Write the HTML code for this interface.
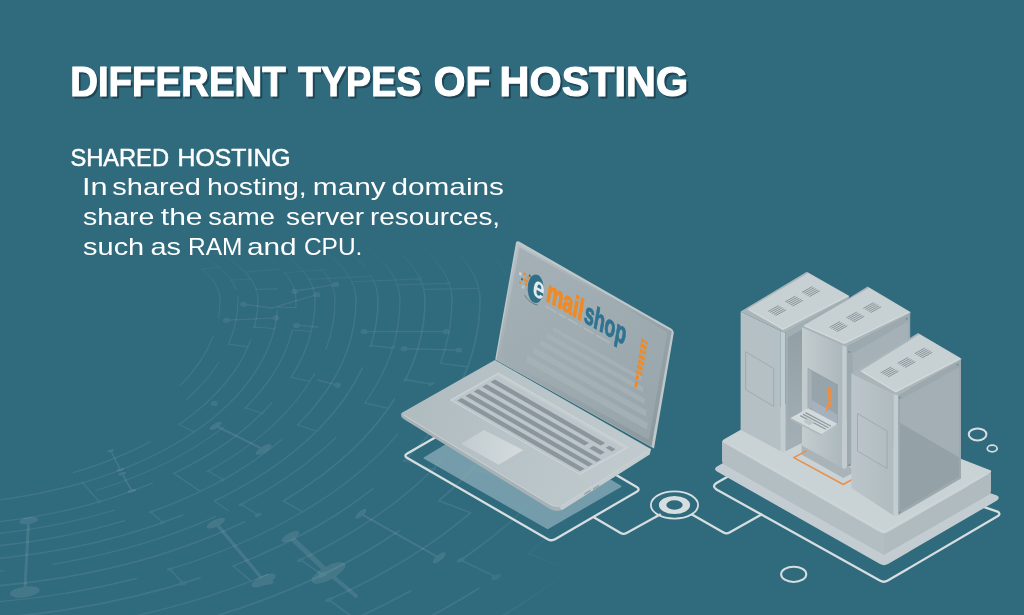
<!DOCTYPE html>
<html lang="en">
<head>
<meta charset="utf-8">
<title>Different Types of Hosting</title>
<style>
html,body{margin:0;padding:0;background:#306a7d;overflow:hidden}
body{width:1024px;height:615px;position:relative;font-family:"Liberation Sans",sans-serif}
svg{position:absolute;left:0;top:0;display:block}
text{font-family:"Liberation Sans",sans-serif}
</style>
</head>
<body>
<svg width="1024" height="615" viewBox="0 0 1024 615">
<rect width="1024" height="615" fill="#306a7d"/>
<!--BG-PATTERN-->
<defs><linearGradient id="fadeg" x1="0" y1="238" x2="0" y2="300" gradientUnits="userSpaceOnUse"><stop offset="0" stop-color="#000"/><stop offset="1" stop-color="#fff"/></linearGradient><mask id="fadem" maskUnits="userSpaceOnUse" x="0" y="0" width="1024" height="615"><rect x="0" y="0" width="1024" height="615" fill="url(#fadeg)"/></mask><linearGradient id="fadeh" x1="470" y1="0" x2="575" y2="0" gradientUnits="userSpaceOnUse"><stop offset="0" stop-color="#fff"/><stop offset="1" stop-color="#000"/></linearGradient><mask id="fademh" maskUnits="userSpaceOnUse" x="0" y="0" width="1024" height="615"><rect x="0" y="0" width="1024" height="615" fill="url(#fadeh)"/></mask></defs>
<g mask="url(#fademh)">
<g id="bgpat" fill="none" stroke="#ffffff" stroke-linecap="round" opacity="0.08" mask="url(#fadem)">
<path d="M201.9 269.2 A300.0 90.0 0 0 1 220.0 300.0" stroke-width="1.2"/><path d="M220.0 300.0 A300.0 171.9 0 0 1 218.4 318.0" stroke-width="1.2"/>
<path d="M213.4 335.7 A300.0 171.9 0 0 1 179.8 385.9" stroke-width="1.2"/>
<path d="M200.8 255.2 A318.0 95.4 0 0 1 236.3 290.0" stroke-width="1.2"/>
<path d="M237.8 296.7 A318.0 95.4 0 0 1 238.0 300.0" stroke-width="1.2"/><path d="M238.0 300.0 A318.0 182.2 0 0 1 228.6 344.1" stroke-width="1.2"/>
<path d="M218.8 362.3 A318.0 182.2 0 0 1 186.7 399.2" stroke-width="1.2"/>
<path d="M200.2 243.3 A338.0 101.4 0 0 1 258.0 300.0" stroke-width="1.2"/><path d="M258.0 300.0 A338.0 193.7 0 0 1 254.7 327.0" stroke-width="1.2"/>
<path d="M250.6 340.3 A338.0 193.7 0 0 1 178.9 424.5" stroke-width="1.2"/>
<path d="M150.5 441.6 A338.0 193.7 0 0 1 73.4 472.6" stroke-width="1.2"/>
<path d="M277.5 310.7 A358.0 205.1 0 0 1 -48.8 504.4" stroke-width="1.4"/>
<path d="M-67.5 505.0 A358.0 205.1 0 0 1 -166.6 499.0" stroke-width="1.4"/>
<path d="M208.0 227.5 A376.0 112.8 0 0 1 277.6 265.1" stroke-width="1.2"/>
<path d="M284.8 272.7 A376.0 112.8 0 0 1 296.0 300.0" stroke-width="1.2"/><path d="M296.0 300.0 A376.0 215.4 0 0 1 295.8 307.5" stroke-width="1.2"/>
<path d="M292.3 330.0 A376.0 215.4 0 0 1 245.6 407.7" stroke-width="1.2"/>
<path d="M224.2 426.6 A376.0 215.4 0 0 1 96.5 490.2" stroke-width="1.2"/>
<path d="M262.1 240.8 A395.0 118.5 0 0 1 315.0 300.0" stroke-width="1.4"/><path d="M315.0 300.0 A395.0 226.3 0 0 1 291.2 377.4" stroke-width="1.4"/>
<path d="M271.9 402.8 A395.0 226.3 0 0 1 173.9 473.4" stroke-width="1.4"/>
<path d="M152.2 483.1 A395.0 226.3 0 0 1 -175.6 519.6" stroke-width="1.4"/>
<path d="M218.5 213.5 A415.0 124.5 0 0 1 304.8 253.4" stroke-width="1.2"/>
<path d="M324.4 272.0 A415.0 124.5 0 0 1 335.0 300.0" stroke-width="1.2"/><path d="M335.0 300.0 A415.0 237.8 0 0 1 325.9 349.4" stroke-width="1.2"/>
<path d="M314.7 373.5 A415.0 237.8 0 0 1 208.3 471.1" stroke-width="1.2"/>
<path d="M114.8 510.0 A415.0 237.8 0 0 1 -7.9 534.2" stroke-width="1.2"/>
<path d="M272.7 223.1 A436.0 130.8 0 0 1 356.0 300.0" stroke-width="1.4"/><path d="M356.0 300.0 A436.0 249.8 0 0 1 297.6 424.9" stroke-width="1.4"/>
<path d="M281.5 439.7 A436.0 249.8 0 0 1 151.0 511.9" stroke-width="1.4"/>
<path d="M124.7 520.6 A436.0 249.8 0 0 1 -185.5 542.4" stroke-width="1.4"/>
<path d="M238.2 201.2 A458.0 137.4 0 0 1 364.4 266.8" stroke-width="1.5"/>
<path d="M371.0 276.1 A458.0 137.4 0 0 1 378.0 300.0" stroke-width="1.5"/><path d="M378.0 300.0 A458.0 262.4 0 0 1 371.0 345.6" stroke-width="1.5"/>
<path d="M362.4 367.9 A458.0 262.4 0 0 1 214.4 501.0" stroke-width="1.5"/>
<path d="M182.7 515.0 A458.0 262.4 0 0 1 -183.0 555.7" stroke-width="1.5"/>
<path d="M287.7 207.4 A480.0 144.0 0 0 1 400.0 300.0" stroke-width="1.3"/><path d="M400.0 300.0 A480.0 275.0 0 0 1 365.0 403.0" stroke-width="1.3"/>
<path d="M335.7 437.5 A480.0 275.0 0 0 1 241.2 504.4" stroke-width="1.3"/>
<path d="M215.5 516.7 A480.0 275.0 0 0 1 52.3 564.4" stroke-width="1.3"/>
<path d="M3.4 570.9 A480.0 275.0 0 0 1 -163.4 570.9" stroke-width="1.3"/>
<path d="M257.9 187.4 A505.0 151.5 0 0 1 373.9 233.6" stroke-width="1.6"/>
<path d="M394.5 248.2 A505.0 151.5 0 0 1 425.0 300.0" stroke-width="1.6"/><path d="M425.0 300.0 A505.0 289.4 0 0 1 405.4 379.8" stroke-width="1.6"/>
<path d="M394.5 399.0 A505.0 289.4 0 0 1 283.3 501.0" stroke-width="1.6"/>
<path d="M244.6 521.7 A505.0 289.4 0 0 1 -150.3 586.5" stroke-width="1.6"/>
<path d="M315.4 193.2 A532.0 159.6 0 0 1 452.0 300.0" stroke-width="1.4"/><path d="M452.0 300.0 A532.0 304.8 0 0 1 440.4 363.4" stroke-width="1.4"/>
<path d="M398.2 433.6 A532.0 304.8 0 0 1 169.8 569.2" stroke-width="1.4"/>
<path d="M136.4 578.5 A532.0 304.8 0 0 1 -135.6 603.2" stroke-width="1.4"/>
<path d="M280.0 171.3 A560.0 168.0 0 0 1 405.0 216.0" stroke-width="1.7"/>
<path d="M431.6 231.7 A560.0 168.0 0 0 1 480.0 300.0" stroke-width="1.7"/><path d="M480.0 300.0 A560.0 320.9 0 0 1 405.0 460.4" stroke-width="1.7"/>
<path d="M373.0 488.6 A560.0 320.9 0 0 1 233.1 566.0" stroke-width="1.7"/>
<path d="M200.0 577.9 A560.0 320.9 0 0 1 -119.1 620.1" stroke-width="1.7"/>
<path d="M345.8 176.6 A592.0 177.6 0 0 1 506.2 275.3" stroke-width="1.5"/>
<path d="M511.6 311.8 A592.0 339.2 0 0 1 476.3 416.0" stroke-width="1.5"/>
<path d="M442.7 459.3 A592.0 339.2 0 0 1 300.5 559.9" stroke-width="1.5"/>
<path d="M268.0 574.4 A592.0 339.2 0 0 1 -59.3 639.0" stroke-width="1.5"/>
<path d="M322.4 156.1 A626.0 187.8 0 0 1 508.2 235.8" stroke-width="1.8"/>
<path d="M544.5 325.0 A626.0 358.7 0 0 1 439.0 500.6" stroke-width="1.8"/>
<path d="M399.5 530.6 A626.0 358.7 0 0 1 -14.6 656.7" stroke-width="1.8"/>
<path d="M381.3 156.7 A664.0 199.2 0 0 1 506.3 206.5" stroke-width="1.6"/>
<path d="M577.5 353.0 A664.0 380.5 0 0 1 506.3 478.6" stroke-width="1.6"/>
<path d="M470.5 512.8 A664.0 380.5 0 0 1 328.8 599.8" stroke-width="1.6"/>
<path d="M291.3 615.4 A664.0 380.5 0 0 1 35.3 674.7" stroke-width="1.6"/>
<path d="M610.6 384.1 A706.0 404.5 0 0 1 460.8 560.0" stroke-width="1.9"/>
<path d="M410.4 591.0 A706.0 404.5 0 0 1 90.8 692.5" stroke-width="1.9"/>
<path d="M642.9 418.8 A752.0 430.9 0 0 1 528.4 553.3" stroke-width="1.7"/>
<path d="M478.8 588.3 A752.0 430.9 0 0 1 177.2 704.9" stroke-width="1.7"/>
<path d="M673.6 457.2 A802.0 459.5 0 0 1 296.5 705.8" stroke-width="2.0"/>
<path d="M703.8 500.0 A858.0 491.6 0 0 1 399.8 707.6" stroke-width="1.8"/>
<path d="M228.6 344.1 L248.0 346.9" stroke-width="1.2"/>
<path d="M254.7 327.0 L274.5 328.5" stroke-width="1.2"/><ellipse cx="254.7" cy="327.0" rx="1.9" ry="0.9" transform="rotate(-25 254.7 327.0)" fill="#ffffff" stroke="none"/><ellipse cx="274.5" cy="328.5" rx="2.4" ry="1.1" transform="rotate(-25 274.5 328.5)" fill="#ffffff" stroke="none"/>
<path d="M277.8 307.2 L295.8 307.5" stroke-width="1.2"/>
<path d="M245.6 407.7 L262.1 413.2" stroke-width="1.2"/><ellipse cx="245.6" cy="407.7" rx="1.9" ry="0.9" transform="rotate(-25 245.6 407.7)" fill="#ffffff" stroke="none"/><ellipse cx="262.1" cy="413.2" rx="2.4" ry="1.1" transform="rotate(-25 262.1 413.2)" fill="#ffffff" stroke="none"/>
<path d="M291.2 377.4 L310.0 381.3" stroke-width="1.2"/>
<path d="M208.3 471.1 L222.9 479.7" stroke-width="1.2"/><ellipse cx="208.3" cy="471.1" rx="2.2" ry="1.0" transform="rotate(-25 208.3 471.1)" fill="#ffffff" stroke="none"/><ellipse cx="222.9" cy="479.7" rx="2.8" ry="1.3" transform="rotate(-25 222.9 479.7)" fill="#ffffff" stroke="none"/>
<path d="M178.9 424.5 L194.2 431.9" stroke-width="1.2"/>
<path d="M82.5 482.8 L99.3 501.7" stroke-width="1.4000000000000001"/><ellipse cx="82.5" cy="482.8" rx="2.4" ry="1.1" transform="rotate(-12 82.5 482.8)" fill="#ffffff" stroke="none"/><ellipse cx="99.3" cy="501.7" rx="3.0" ry="1.4" transform="rotate(-12 99.3 501.7)" fill="#ffffff" stroke="none"/>
<path d="M173.9 473.4 L200.3 491.4" stroke-width="1.3"/>
<path d="M151.0 511.9 L162.7 522.6" stroke-width="1.4000000000000001"/><ellipse cx="151.0" cy="511.9" rx="2.6" ry="1.2" transform="rotate(-25 151.0 511.9)" fill="#ffffff" stroke="none"/><ellipse cx="162.7" cy="522.6" rx="3.2" ry="1.5" transform="rotate(-25 162.7 522.6)" fill="#ffffff" stroke="none"/>
<path d="M214.4 501.0 L228.5 510.7" stroke-width="1.3"/>
<path d="M241.2 504.4 L257.9 515.0" stroke-width="1.4000000000000001"/><ellipse cx="241.2" cy="504.4" rx="2.9" ry="1.4" transform="rotate(-25 241.2 504.4)" fill="#ffffff" stroke="none"/><ellipse cx="257.9" cy="515.0" rx="3.6" ry="1.7" transform="rotate(-25 257.9 515.0)" fill="#ffffff" stroke="none"/>
<path d="M297.6 424.9 L316.6 431.2" stroke-width="1.3"/>
<path d="M371.0 345.6 L392.7 347.8" stroke-width="1.3"/><ellipse cx="371.0" cy="345.6" rx="2.2" ry="1.0" transform="rotate(-25 371.0 345.6)" fill="#ffffff" stroke="none"/><ellipse cx="392.7" cy="347.8" rx="2.8" ry="1.3" transform="rotate(-25 392.7 347.8)" fill="#ffffff" stroke="none"/>
<path d="M365.0 403.0 L388.2 408.4" stroke-width="1.3"/>
<path d="M405.4 379.8 L431.4 384.0" stroke-width="1.4000000000000001"/><ellipse cx="405.4" cy="379.8" rx="2.6" ry="1.2" transform="rotate(-25 405.4 379.8)" fill="#ffffff" stroke="none"/><ellipse cx="431.4" cy="384.0" rx="3.2" ry="1.5" transform="rotate(-25 431.4 384.0)" fill="#ffffff" stroke="none"/>
<path d="M440.4 363.4 L467.8 366.7" stroke-width="1.4000000000000001"/>
<path d="M405.0 460.4 L432.7 469.6" stroke-width="1.5"/><ellipse cx="405.0" cy="460.4" rx="2.9" ry="1.4" transform="rotate(-25 405.0 460.4)" fill="#ffffff" stroke="none"/><ellipse cx="432.7" cy="469.6" rx="3.6" ry="1.7" transform="rotate(-25 432.7 469.6)" fill="#ffffff" stroke="none"/>
<path d="M283.3 501.0 L302.7 511.8" stroke-width="1.5"/>
<path d="M169.8 569.2 L182.9 583.3" stroke-width="1.6"/><ellipse cx="169.8" cy="569.2" rx="3.2" ry="1.5" transform="rotate(-12 169.8 569.2)" fill="#ffffff" stroke="none"/><ellipse cx="182.9" cy="583.3" rx="4.0" ry="1.9" transform="rotate(-12 182.9 583.3)" fill="#ffffff" stroke="none"/>
<path d="M233.1 566.0 L251.0 581.2" stroke-width="1.6"/>
<path d="M300.5 559.9 L322.4 574.8" stroke-width="1.7"/><ellipse cx="300.5" cy="559.9" rx="3.5" ry="1.7" transform="rotate(-25 300.5 559.9)" fill="#ffffff" stroke="none"/><ellipse cx="322.4" cy="574.8" rx="4.4" ry="2.1" transform="rotate(-25 322.4 574.8)" fill="#ffffff" stroke="none"/>
<path d="M439.0 500.6 L470.5 512.8" stroke-width="1.7"/>
<path d="M328.8 599.8 L354.7 618.8" stroke-width="1.8"/><ellipse cx="328.8" cy="599.8" rx="3.8" ry="1.8" transform="rotate(-25 328.8 599.8)" fill="#ffffff" stroke="none"/><ellipse cx="354.7" cy="618.8" rx="4.8" ry="2.2" transform="rotate(-25 354.7 618.8)" fill="#ffffff" stroke="none"/>
<path d="M476.3 416.0 L508.2 422.7" stroke-width="1.5"/>
<path d="M472.7 468.4 L506.3 478.6" stroke-width="1.6"/><ellipse cx="472.7" cy="468.4" rx="3.2" ry="1.5" transform="rotate(-25 472.7 468.4)" fill="#ffffff" stroke="none"/><ellipse cx="506.3" cy="478.6" rx="4.0" ry="1.9" transform="rotate(-25 506.3 478.6)" fill="#ffffff" stroke="none"/>
<path d="M460.8 560.0 L496.1 577.0" stroke-width="1.9000000000000001"/><ellipse cx="460.8" cy="560.0" rx="4.2" ry="2.0" transform="rotate(-25 460.8 560.0)" fill="#ffffff" stroke="none"/><ellipse cx="496.1" cy="577.0" rx="5.2" ry="2.4" transform="rotate(-25 496.1 577.0)" fill="#ffffff" stroke="none"/>
<path d="M528.4 553.3 L568.8 570.1" stroke-width="1.9000000000000001"/>
<path d="M231.1 280.2 L250.6 278.9" stroke-width="1.1"/><ellipse cx="231.1" cy="280.2" rx="1.6" ry="0.8" transform="rotate(-25 231.1 280.2)" fill="#ffffff" stroke="none"/><ellipse cx="250.6" cy="278.9" rx="2.0" ry="0.9" transform="rotate(-25 250.6 278.9)" fill="#ffffff" stroke="none"/>
<path d="M244.9 272.1 L281.4 268.9" stroke-width="1.1"/>
<path d="M284.8 272.7 L322.7 269.9" stroke-width="1.1"/><ellipse cx="284.8" cy="272.7" rx="1.9" ry="0.9" transform="rotate(-25 284.8 272.7)" fill="#ffffff" stroke="none"/><ellipse cx="322.7" cy="269.9" rx="2.4" ry="1.1" transform="rotate(-25 322.7 269.9)" fill="#ffffff" stroke="none"/>
<path d="M328.7 278.4 L371.0 276.1" stroke-width="1.2"/>
<path d="M373.5 280.9 L420.1 278.9" stroke-width="1.2"/><ellipse cx="373.5" cy="280.9" rx="2.1" ry="1.0" transform="rotate(-25 373.5 280.9)" fill="#ffffff" stroke="none"/><ellipse cx="420.1" cy="278.9" rx="2.6" ry="1.2" transform="rotate(-25 420.1 278.9)" fill="#ffffff" stroke="none"/>
<path d="M423.8 289.4 L478.6 288.3" stroke-width="1.2"/>
<path d="M292.3 330.0 L311.2 331.5" stroke-width="1.1"/>
<path d="M309.0 279.4 L328.7 278.4" stroke-width="1.1"/><ellipse cx="309.0" cy="279.4" rx="1.8" ry="0.8" transform="rotate(-25 309.0 279.4)" fill="#ffffff" stroke="none"/><ellipse cx="328.7" cy="278.4" rx="2.2" ry="1.0" transform="rotate(-25 328.7 278.4)" fill="#ffffff" stroke="none"/>
<path d="M351.8 281.8 L373.5 280.9" stroke-width="1.1"/>
<path d="M397.4 284.9 L449.1 283.3" stroke-width="1.2"/><ellipse cx="397.4" cy="284.9" rx="1.9" ry="0.9" transform="rotate(-25 397.4 284.9)" fill="#ffffff" stroke="none"/><ellipse cx="449.1" cy="283.3" rx="2.4" ry="1.1" transform="rotate(-25 449.1 283.3)" fill="#ffffff" stroke="none"/>
<path d="M201.9 269.2 L218.8 267.4" stroke-width="1.2"/><ellipse cx="201.9" cy="269.2" rx="1.6" ry="0.8" transform="rotate(-25 201.9 269.2)" fill="#ffffff" stroke="none"/><ellipse cx="218.8" cy="267.4" rx="2.0" ry="0.9" transform="rotate(-25 218.8 267.4)" fill="#ffffff" stroke="none"/>
<path d="M200.8 255.2 L218.4 252.4" stroke-width="1.2"/>
<path d="M200.2 243.3 L231.7 236.9" stroke-width="1.2"/><ellipse cx="200.2" cy="243.3" rx="1.8" ry="0.8" transform="rotate(-25 200.2 243.3)" fill="#ffffff" stroke="none"/><ellipse cx="231.7" cy="236.9" rx="2.2" ry="1.0" transform="rotate(-25 231.7 236.9)" fill="#ffffff" stroke="none"/>
<path d="M208.0 227.5 L237.9 220.0" stroke-width="1.2"/>
<path d="M218.5 213.5 L249.5 204.6" stroke-width="1.2"/><ellipse cx="218.5" cy="213.5" rx="1.9" ry="0.9" transform="rotate(-25 218.5 213.5)" fill="#ffffff" stroke="none"/><ellipse cx="249.5" cy="204.6" rx="2.4" ry="1.1" transform="rotate(-25 249.5 204.6)" fill="#ffffff" stroke="none"/>
<path d="M238.2 201.2 L270.8 191.0" stroke-width="1.3"/>
<path d="M257.9 187.4 L294.7 175.2" stroke-width="1.3"/><ellipse cx="257.9" cy="187.4" rx="1.9" ry="0.9" transform="rotate(-25 257.9 187.4)" fill="#ffffff" stroke="none"/><ellipse cx="294.7" cy="175.2" rx="2.4" ry="1.1" transform="rotate(-25 294.7 175.2)" fill="#ffffff" stroke="none"/>
<path d="M280.0 171.3 L322.4 156.1" stroke-width="1.3"/>
<path d="M262.1 240.8 L297.6 234.6" stroke-width="1.2"/><ellipse cx="262.1" cy="240.8" rx="1.9" ry="0.9" transform="rotate(-25 262.1 240.8)" fill="#ffffff" stroke="none"/><ellipse cx="297.6" cy="234.6" rx="2.4" ry="1.1" transform="rotate(-25 297.6 234.6)" fill="#ffffff" stroke="none"/>
<path d="M272.7 223.1 L308.3 215.4" stroke-width="1.2"/>
<path d="M287.7 207.4 L327.5 197.4" stroke-width="1.3"/><ellipse cx="287.7" cy="207.4" rx="2.1" ry="1.0" transform="rotate(-25 287.7 207.4)" fill="#ffffff" stroke="none"/><ellipse cx="327.5" cy="197.4" rx="2.6" ry="1.2" transform="rotate(-25 327.5 197.4)" fill="#ffffff" stroke="none"/>
<path d="M315.4 193.2 L359.9 181.2" stroke-width="1.3"/>
<path d="M345.8 176.6 L397.6 161.6" stroke-width="1.3"/><ellipse cx="345.8" cy="176.6" rx="2.1" ry="1.0" transform="rotate(-25 345.8 176.6)" fill="#ffffff" stroke="none"/><ellipse cx="397.6" cy="161.6" rx="2.6" ry="1.2" transform="rotate(-25 397.6 161.6)" fill="#ffffff" stroke="none"/>
<path d="M256.1 289.4 L276.0 288.8" stroke-width="1.2"/><ellipse cx="256.1" cy="289.4" rx="1.6" ry="0.8" transform="rotate(-25 256.1 289.4)" fill="#ffffff" stroke="none"/><ellipse cx="276.0" cy="288.8" rx="2.0" ry="0.9" transform="rotate(-25 276.0 288.8)" fill="#ffffff" stroke="none"/>
<path d="M304.8 253.4 L324.3 251.0" stroke-width="1.2"/>
<path d="M373.9 233.6 L398.2 230.0" stroke-width="1.2"/><ellipse cx="373.9" cy="233.6" rx="1.9" ry="0.9" transform="rotate(-25 373.9 233.6)" fill="#ffffff" stroke="none"/><ellipse cx="398.2" cy="230.0" rx="2.4" ry="1.1" transform="rotate(-25 398.2 230.0)" fill="#ffffff" stroke="none"/>
<path d="M405.0 216.0 L432.7 211.2" stroke-width="1.3"/>
</g>
<g id="bgpat2" fill="none" stroke="#ffffff" stroke-linecap="round" opacity="0.10">
<path d="M28.6 520.6 L24.8 592" stroke-width="3.0"/><ellipse cx="28.6" cy="520.6" rx="9.5" ry="3.4" transform="rotate(-8 28.6 520.6)" fill="#ffffff" stroke="none"/><ellipse cx="24.8" cy="592" rx="15" ry="5.4" transform="rotate(-8 24.8 592)" fill="#ffffff" stroke="none"/>
<path d="M215.8 523.2 L263.6 580.5" stroke-width="3.4"/><ellipse cx="215.8" cy="523.2" rx="10" ry="3.6" transform="rotate(-25 215.8 523.2)" fill="#ffffff" stroke="none"/><ellipse cx="263.6" cy="580.5" rx="13" ry="4.7" transform="rotate(-25 263.6 580.5)" fill="#ffffff" stroke="none"/>
<path d="M290.3 536.6 L328.5 572.9" stroke-width="5.0"/><ellipse cx="290.3" cy="536.6" rx="10" ry="3.6" transform="rotate(-28 290.3 536.6)" fill="#ffffff" stroke="none"/><ellipse cx="328.5" cy="572.9" rx="19" ry="6.8" transform="rotate(-28 328.5 572.9)" fill="#ffffff" stroke="none"/>
<path d="M215.8 425.8 L263.6 449.5" stroke-width="2.2"/><ellipse cx="215.8" cy="425.8" rx="7" ry="2.5" transform="rotate(-30 215.8 425.8)" fill="#ffffff" stroke="none"/><ellipse cx="263.6" cy="449.5" rx="9" ry="3.2" transform="rotate(-30 263.6 449.5)" fill="#ffffff" stroke="none"/>
<path d="M360.9 513.8 L439.2 557.8" stroke-width="2.0"/><ellipse cx="360.9" cy="513.8" rx="7" ry="2.5" transform="rotate(-40 360.9 513.8)" fill="#ffffff" stroke="none"/><ellipse cx="439.2" cy="557.8" rx="8" ry="2.9" transform="rotate(-40 439.2 557.8)" fill="#ffffff" stroke="none"/>
<path d="M110.8 450.7 L120.3 469.8" stroke-width="1.4"/><ellipse cx="110.8" cy="450.7" rx="3.5" ry="1.3" transform="rotate(-15 110.8 450.7)" fill="#ffffff" stroke="none"/><ellipse cx="120.3" cy="469.8" rx="4" ry="1.4" transform="rotate(-15 120.3 469.8)" fill="#ffffff" stroke="none"/>
<path d="M122.2 473.6 L131.8 490.8" stroke-width="1.8"/><ellipse cx="122.2" cy="473.6" rx="4" ry="1.4" transform="rotate(-15 122.2 473.6)" fill="#ffffff" stroke="none"/><ellipse cx="131.8" cy="490.8" rx="4.5" ry="1.6" transform="rotate(-15 131.8 490.8)" fill="#ffffff" stroke="none"/>
<path d="M328.5 572.9 L356 596" stroke-width="4"/>
<ellipse cx="265.5" cy="582" rx="8" ry="3" fill="#fff" stroke="none"/>
</g>
</g>
<g id="bgnodes" fill="#ffffff" stroke="#ffffff" stroke-width="1.4" stroke-linecap="round" opacity="0.075">
<ellipse cx="226.4" cy="320.3" rx="3.4" ry="2.6" stroke="none"/>
<ellipse cx="275.9" cy="317.9" rx="3.4" ry="2.6" stroke="none"/>
<ellipse cx="243.5" cy="304.3" rx="3.4" ry="2.6" stroke="none"/>
<ellipse cx="294.7" cy="291.3" rx="3.4" ry="2.6" stroke="none"/>
<ellipse cx="317" cy="294.7" rx="3.4" ry="2.6" stroke="none"/>
<ellipse cx="335.8" cy="284.4" rx="3.4" ry="2.6" stroke="none"/>
<ellipse cx="296.5" cy="325.4" rx="3.4" ry="2.6" stroke="none"/>
<ellipse cx="364.1" cy="331.6" rx="3.4" ry="2.6" stroke="none"/>
<ellipse cx="404.1" cy="348.7" rx="3.4" ry="2.6" stroke="none"/>
<ellipse cx="446.1" cy="331.6" rx="3.4" ry="2.6" stroke="none"/>
<ellipse cx="458.8" cy="350" rx="3.4" ry="2.6" stroke="none"/>
<ellipse cx="337.5" cy="385.2" rx="3.4" ry="2.6" stroke="none"/>
<ellipse cx="214.4" cy="403.4" rx="3.4" ry="2.6" stroke="none"/>
<path d="M226.4 320.3 L275.9 317.9" fill="none"/>
<path d="M243.5 304.3 L272 308" fill="none"/>
<path d="M272 308 L317 294.7" fill="none"/>
<path d="M294.7 291.3 L335.8 284.4" fill="none"/>
<path d="M364.1 331.6 L446.1 331.6" fill="none"/>
<path d="M404.1 348.7 L458.8 350" fill="none"/>
<path d="M296.5 325.4 L318 327" fill="none"/>
<path d="M337.5 385.2 L318 380" fill="none"/>
</g>
<!--LINES-->
<!-- white outline tracks -->
<g id="tracks" fill="none" stroke="#d7dee0" stroke-width="2.3" stroke-linejoin="round" stroke-linecap="round">
 <!-- laptop outline -->
 <path d="M407.3 453.6 L490.4 405.8 Q494.3 403.6 498.2 405.9 L636.7 487.1 Q640.6 489.4 636.7 491.7 L555.5 539.1 Q551.6 541.4 547.7 539.15 L407.3 458.05 Q403.4 455.8 407.3 453.6 Z"/>
 <!-- connector laptop -> target -->
 <path d="M593.75 517.2 L620.6 533 Q623.6 534.8 626.6 533 L660 514.6"/>
 <!-- connector target -> server -->
 <path d="M692 514.5 L723.5 532.5 Q726.5 534.2 729.5 532.5 L761.5 514.5"/>
 <!-- server outline -->
 <path d="M716.5 483 L790 441 L997.5 511.6 Q1001.4 513.9 997.5 516.2 L887.8 580.6 Q883.8 582.9 879.8 580.6 L716.5 489.5 Q711.5 486.3 716.5 483 Z"/>
</g>
<!-- laptop soft shadow plate -->
<path d="M424.6 458 L497 414.5 L620.3 486.3 L547.7 528.2 Z" fill="#8fb0bc" stroke="#8fb0bc" stroke-width="2" stroke-linejoin="round" opacity="0.72"/>
<!-- target rings -->
<g fill="none" stroke="#d6dee0">
 <ellipse cx="674.5" cy="505" rx="23.6" ry="13.6" stroke-width="1.8"/>
 <path d="M658.9 505 a15.6 9.1 0 1 0 31.2 0 a15.6 9.1 0 1 0 -31.2 0 Z M666.3 505 a8.2 4.7 0 1 1 16.4 0 a8.2 4.7 0 1 1 -16.4 0 Z" fill="#d6dee0" stroke="none" fill-rule="evenodd"/>
 <ellipse cx="793.7" cy="574.3" rx="12.6" ry="7.6" stroke-width="2"/>
 <ellipse cx="977.6" cy="434.4" rx="8.8" ry="6.0" stroke-width="2"/>
 <ellipse cx="992.2" cy="448.5" rx="4.9" ry="3.3" stroke-width="1.8"/>
</g>

<!--LAPTOP-->
<defs>
<linearGradient id="deckg" x1="401" y1="415" x2="650" y2="450" gradientUnits="userSpaceOnUse"><stop offset="0" stop-color="#b0bbbf"/><stop offset="0.5" stop-color="#b9c4c8"/><stop offset="1" stop-color="#c1cbce"/></linearGradient>
<linearGradient id="padg" x1="461" y1="444" x2="524" y2="450" gradientUnits="userSpaceOnUse"><stop offset="0" stop-color="#c2ccd0"/><stop offset="1" stop-color="#d3dbdd"/></linearGradient>
<linearGradient id="dispg" x1="520" y1="250" x2="640" y2="440" gradientUnits="userSpaceOnUse"><stop offset="0" stop-color="#a4b0b5"/><stop offset="1" stop-color="#98a6ab"/></linearGradient>
<linearGradient id="bezg" x1="516" y1="245" x2="650" y2="445" gradientUnits="userSpaceOnUse"><stop offset="0" stop-color="#b7c1c5"/><stop offset="0.3" stop-color="#a5b1b5"/><stop offset="0.6" stop-color="#96a3a8"/><stop offset="1" stop-color="#8c999e"/></linearGradient>
</defs>
<g id="laptop">
<path d="M400.7 413.4 L401.5 417.0 Q402.1 418.2 405.2 420.0 L550.0 509.0 Q557.0 513.0 564.0 509.0 L649.6 454.5 L650.8 449.1 Z" fill="#a7b2b6"/>
<polygon points="559.0,507.4 650.8,449.1 649.8,454.3 562.0,510.0" fill="#c2cccf"/>
<path d="M403.7 411.7 L494.9 360.0 L650.8 449.1 L564.0 504.3 Q557.0 508.2 550.0 504.3 L403.7 415.1 Q399.7 413.4 403.7 411.7 Z" fill="url(#deckg)"/>
<path d="M403.7 415.1 L550.0 504.3 Q557.0 508.2 564.0 504.3 L650.8 449.1" fill="none" stroke="#ccd5d8" stroke-width="0.9"/>
<polygon points="584.4,493.2 590.6,489.6 590.6,491.4 584.4,495.0" fill="#98a5aa"/>
<polygon points="593.0,488.2 599.2,484.6 599.2,486.4 593.0,490.0" fill="#98a5aa"/>
<polygon points="498.5,373.2 627.9,447.5 579.9,474.3 450.6,399.9" fill="#c3cdd0" stroke="#cdd6d9" stroke-width="1"/>
<polygon points="497.2,375.6 623.5,448.2 578.8,473.1 452.6,400.6" fill="#bcc6ca"/>
<polygon points="494.9,379.5 605.2,442.9 600.7,445.4 490.5,382.0" fill="#8a969b"/>
<polygon points="486.6,384.2 589.0,443.1 584.5,445.6 482.1,386.7" fill="#8a969b"/>
<polygon points="478.2,388.9 601.1,459.5 596.6,462.0 473.7,391.4" fill="#8a969b"/>
<polygon points="469.9,393.5 592.8,464.1 588.4,466.6 465.5,396.0" fill="#8a969b"/>
<polygon points="461.7,398.1 584.6,468.7 580.1,471.2 457.2,400.6" fill="#8a969b"/>
<polygon points="609.4,445.8 615.6,449.3 611.9,451.4 605.7,447.8" fill="#8a969b"/>
<polygon points="593.6,445.7 604.8,452.2 600.4,454.7 589.1,448.2" fill="#8a969b"/>
<polygon points="460.5,443.8 483.9,429.6 524.0,450.1 498.6,465.3" fill="url(#padg)" stroke="#b3bdc1" stroke-width="0.6"/>
<path d="M520.8 242.5 L669.8 327.8 Q674.8 330.5 673.5 334.4 L654.0 448.4 L495.2 359.6 L515.7 244.2 Q516.0 239.4 520.8 242.5 Z" fill="#bec8cb"/>
<polygon points="517.2,243.4 671.8,331.3 651.5,446.7 496.5,360.1" fill="url(#bezg)"/>
<polygon points="519.3,247.2 667.3,332.3 648.9,439.7 500.0,356.4" fill="url(#dispg)"/>
<polygon points="553.3,326.7 641.9,376.8 641.2,381.0 552.6,330.8" fill="#a8b4b8" opacity="0.7"/>
<polygon points="547.0,332.9 643.6,387.5 642.8,392.2 546.1,337.7" fill="#a8b4b8" opacity="0.7"/>
<polygon points="540.5,339.8 645.1,398.7 644.2,404.0 539.6,345.1" fill="#a8b4b8" opacity="0.7"/>
<polygon points="534.0,347.2 646.6,410.6 645.6,416.5 533.0,353.2" fill="#a8b4b8" opacity="0.7"/>
<polygon points="527.4,355.3 647.9,423.0 646.8,429.5 526.2,361.9" fill="#a8b4b8" opacity="0.7"/>
<!--LOGO-->
<g transform="matrix(0.868,0.497,-0.170,0.985,535.6,289.2)">
<ellipse cx="0" cy="-0.5" rx="8.8" ry="13.8" fill="#2f6f88"/>
<path d="M-10.5 11.5 Q-3 16.5 5 13.5" stroke="#5d7e8c" stroke-width="0.9" fill="none"/>
<text x="-3.0" y="7.0" font-size="29.5" font-weight="700" fill="#e4ebee" textLength="13" lengthAdjust="spacingAndGlyphs">e</text>
<rect x="-15.5" y="-9.5" width="2.8" height="2.4" fill="#f08a24"/>
<rect x="-11.4" y="-8.0" width="2.4" height="2.2" fill="#f08a24"/>
<rect x="-13.5" y="-4.6" width="4.0" height="3.4" fill="#f08a24"/>
<rect x="-17" y="-3.0" width="2" height="2" fill="#2f6f88"/>
<rect x="-18.5" y="0.8" width="2.2" height="2.2" fill="#f08a24"/>
<rect x="-9.6" y="-10.4" width="2" height="2" fill="#2f6f88"/>
<rect x="-15" y="3.0" width="3.0" height="3.0" fill="#b9c4c8"/>
<rect x="-20" y="-7.5" width="2.4" height="2.8" fill="#cfd6d9"/>
<rect x="-11.8" y="-0.6" width="2.6" height="2.4" fill="#f08a24"/>
</g>
<text transform="matrix(0.868,0.497,-0.170,0.985,545.4,300.2)" font-size="29.5" font-weight="700" fill="#f08a24" stroke="#f08a24" stroke-width="1.1" textLength="42" lengthAdjust="spacingAndGlyphs">mail</text>
<text transform="matrix(0.868,0.497,-0.170,0.985,583.2,321.4)" font-size="29.5" font-weight="700" fill="#2f7391" stroke="#2f7391" stroke-width="1.0" textLength="47.5" lengthAdjust="spacingAndGlyphs">shop</text>
<path transform="matrix(0.868,0.497,-0.170,0.985,545.0,307.2)" d="M0 -1.3 L76 -1.3" fill="none" stroke="#b9c3c7" stroke-width="1.8" stroke-dasharray="13 2.4 8.5 2.4 11 2.4 2 2.4 12 2.4 16 100" opacity="0.55"/>
<g transform="matrix(0.868,0.497,-0.170,0.985,641.5,338.0)" fill="#f08a24">
<rect x="0.0" y="0.0" width="3.7" height="3.5"/>
<rect x="4.9" y="0.6" width="2.6" height="2.6"/>
<rect x="0.2" y="4.9" width="6.8" height="4.0"/>
<rect x="0.7" y="10.3" width="2.8" height="4.2"/>
<rect x="4.4" y="10.1" width="3.0" height="3.5"/>
<rect x="0.5" y="15.9" width="6.6" height="3.5"/>
<rect x="0.9" y="20.8" width="3.0" height="4.2"/>
<rect x="4.9" y="21.3" width="2.6" height="3.0"/>
<rect x="0.7" y="26.4" width="6.1" height="3.7"/>
<rect x="0.9" y="31.6" width="2.8" height="3.5"/>
<rect x="4.6" y="32.1" width="2.6" height="2.8"/>
<rect x="0.9" y="36.7" width="3.5" height="4.0"/>
<rect x="1.2" y="42.6" width="3.0" height="6.1"/>
</g>

</g>
<!--SERVER-->
<defs><linearGradient id="r2g" x1="802" y1="0" x2="842" y2="0" gradientUnits="userSpaceOnUse"><stop offset="0" stop-color="#c3cdd0"/><stop offset="1" stop-color="#adb8bc"/></linearGradient><linearGradient id="r1g" x1="0" y1="335" x2="0" y2="447" gradientUnits="userSpaceOnUse"><stop offset="0" stop-color="#93a1a6"/><stop offset="1" stop-color="#a3afb4"/></linearGradient><linearGradient id="r3g" x1="851" y1="0" x2="894" y2="0" gradientUnits="userSpaceOnUse"><stop offset="0" stop-color="#bcc6ca"/><stop offset="1" stop-color="#b0bbbf"/></linearGradient></defs>
<g id="server">
<path d="M717 466.5 L790 424.5 L997 495.5 Q1000.5 497.6 997 500.4 L888 564.0 Q884 566.3 880 564.0 L717 471.5 Q713 469.0 717 466.5 Z" fill="#c3ccd0"/>
<path d="M722 440.7 L722 461 Q722 463.4 724.5 464.8 L879.5 552.6 Q883.8 555 883.8 555 L883.8 533.4 Z" fill="#b3bec2"/>
<path d="M883.8 533.4 L883.8 555 Q884 555 888 552.6 L988.5 495 Q991 493.5 991 491 L991 473 Z" fill="#b0bbbf"/>
<path d="M724.5 439 L800 396 L991 470.5 Q991.8 472.6 989 474.2 L888 532 Q883.8 534.4 879.6 532 L724.5 443.2 Q720.5 441 724.5 439 Z" fill="#c9d2d5"/>
<path d="M731 445 L883.8 532 L985 474" fill="none" stroke="#d3dbdd" stroke-width="1" opacity="0.7"/>
<polygon points="801.6,444.0 801.6,454.6 843.3,478.0 852.4,473.3 852.4,468.0 844.6,466.0" fill="#a9b4b8"/>
<path d="M806.8 450.6 L793.8 457.7 L843.3 484.5 L852.4 479.3" fill="none" stroke="#e8904a" stroke-width="1.5" stroke-linejoin="round"/>
<polygon points="785.3,332.5 848.8,297.1 848.8,420.0 785.3,451.2" fill="#a1aeb3"/>
<polygon points="740.6,311.6 780.8,331.1 780.8,451.3 740.6,429.8" fill="#b5c0c4"/>
<polygon points="780.8,330.9 783.0,331.9 785.3,332.5 785.3,451.2 783.0,452.5 780.8,451.3" fill="#c3cdd0"/>
<polygon points="740.6,311.6 806.8,271.8 849.4,296.1 848.8,297.5 785.3,332.7 783.0,332.1 780.8,331.1" fill="#aab5ba"/>
<polygon points="747.2,309.3 808.3,273.0 848.8,295.9 783.0,329.9" fill="#c7d0d3"/>
<path d="M748.7 309.5 L783.0 329.0 L847.3 296.1" fill="none" stroke="#d1d9db" stroke-width="1.3"/>
<line x1="768.2" y1="311.4" x2="778.6" y2="305.6" stroke="#87959a" stroke-width="1.0"/>
<line x1="770.0" y1="312.4" x2="780.5" y2="306.7" stroke="#87959a" stroke-width="1.0"/>
<line x1="771.9" y1="313.5" x2="782.3" y2="307.7" stroke="#87959a" stroke-width="1.0"/>
<line x1="773.8" y1="314.6" x2="784.2" y2="308.8" stroke="#87959a" stroke-width="1.0"/>
<line x1="775.6" y1="315.6" x2="786.0" y2="309.8" stroke="#87959a" stroke-width="1.0"/>
<line x1="785.1" y1="301.9" x2="795.5" y2="296.1" stroke="#87959a" stroke-width="1.0"/>
<line x1="786.9" y1="302.9" x2="797.4" y2="297.2" stroke="#87959a" stroke-width="1.0"/>
<line x1="788.8" y1="304.0" x2="799.2" y2="298.2" stroke="#87959a" stroke-width="1.0"/>
<line x1="790.6" y1="305.1" x2="801.1" y2="299.3" stroke="#87959a" stroke-width="1.0"/>
<line x1="792.5" y1="306.1" x2="802.9" y2="300.3" stroke="#87959a" stroke-width="1.0"/>
<line x1="802.0" y1="292.4" x2="812.4" y2="286.6" stroke="#87959a" stroke-width="1.0"/>
<line x1="803.8" y1="293.4" x2="814.2" y2="287.7" stroke="#87959a" stroke-width="1.0"/>
<line x1="805.7" y1="294.5" x2="816.1" y2="288.7" stroke="#87959a" stroke-width="1.0"/>
<line x1="807.5" y1="295.6" x2="818.0" y2="289.8" stroke="#87959a" stroke-width="1.0"/>
<line x1="809.4" y1="296.6" x2="819.8" y2="290.8" stroke="#87959a" stroke-width="1.0"/>
<polygon points="788.0,337.2 802.5,329.2 802.5,440.0 788.0,447.8" fill="url(#r1g)"/>
<polygon points="745.6,351.7 773.7,368.6 773.7,406.4 745.6,389.5" fill="none" stroke="#98a5aa" stroke-width="0.8"/>
<polygon points="846.7,346.5 910.2,313.2 910.2,440.0 846.7,467.6" fill="#9ca9ae"/>
<polygon points="802.0,327.2 842.2,345.1 842.2,467.7 802.0,445.4" fill="url(#r2g)"/>
<polygon points="842.2,344.9 844.4,345.9 846.7,346.5 846.7,467.6 844.4,468.9 842.2,467.7" fill="#c3cdd0"/>
<polygon points="802.0,327.2 867.6,286.6 910.8,312.2 910.2,313.6 846.7,346.7 844.4,346.1 842.2,345.1" fill="#aab5ba"/>
<polygon points="803.4,325.6 869.1,287.8 910.2,312.0 844.4,343.9" fill="#c7d0d3"/>
<path d="M804.9 325.8 L844.4 343.0 L908.7 312.2" fill="none" stroke="#d1d9db" stroke-width="1.3"/>
<line x1="829.5" y1="327.4" x2="839.9" y2="321.6" stroke="#87959a" stroke-width="1.0"/>
<line x1="831.3" y1="328.4" x2="841.8" y2="322.7" stroke="#87959a" stroke-width="1.0"/>
<line x1="833.2" y1="329.5" x2="843.6" y2="323.7" stroke="#87959a" stroke-width="1.0"/>
<line x1="835.0" y1="330.6" x2="845.5" y2="324.8" stroke="#87959a" stroke-width="1.0"/>
<line x1="836.9" y1="331.6" x2="847.3" y2="325.8" stroke="#87959a" stroke-width="1.0"/>
<line x1="846.4" y1="317.9" x2="856.8" y2="312.1" stroke="#87959a" stroke-width="1.0"/>
<line x1="848.2" y1="318.9" x2="858.6" y2="313.2" stroke="#87959a" stroke-width="1.0"/>
<line x1="850.1" y1="320.0" x2="860.5" y2="314.2" stroke="#87959a" stroke-width="1.0"/>
<line x1="851.9" y1="321.1" x2="862.4" y2="315.3" stroke="#87959a" stroke-width="1.0"/>
<line x1="853.8" y1="322.1" x2="864.2" y2="316.3" stroke="#87959a" stroke-width="1.0"/>
<line x1="863.3" y1="308.4" x2="873.7" y2="302.6" stroke="#87959a" stroke-width="1.0"/>
<line x1="865.1" y1="309.4" x2="875.5" y2="303.7" stroke="#87959a" stroke-width="1.0"/>
<line x1="867.0" y1="310.5" x2="877.4" y2="304.7" stroke="#87959a" stroke-width="1.0"/>
<line x1="868.8" y1="311.6" x2="879.2" y2="305.8" stroke="#87959a" stroke-width="1.0"/>
<line x1="870.7" y1="312.6" x2="881.1" y2="306.8" stroke="#87959a" stroke-width="1.0"/>
<polygon points="852.6,353.2 908.2,321.2 908.2,440.0 852.6,466.0" fill="#a5b1b6"/>
<circle cx="849.4" cy="352.0" r="1" fill="#7f8c91"/>
<circle cx="906.8" cy="318.8" r="1" fill="#7f8c91"/>
<circle cx="849.4" cy="465.2" r="1" fill="#7f8c91"/>
<polygon points="808.1,368.6 837.3,384.8 837.3,424.6 808.1,409.0" fill="#97a5aa" stroke="#8d9ba0" stroke-width="0.7"/>
<polygon points="808.1,368.6 811.6,370.6 811.6,408.0 808.1,409.0" fill="#a5b1b6"/>
<polygon points="811.6,400.0 837.3,414.4 837.3,424.6 811.6,410.5" fill="#a9b4c0" opacity="0.8"/>
<rect x="827.4" y="387.5" width="3.6" height="5.5" fill="#e8904a"/>
<rect x="827.0" y="394.0" width="4.2" height="6.5" fill="#e8904a"/>
<rect x="827.4" y="401.2" width="3.6" height="4.0" fill="#e8904a"/>
<rect x="825.2" y="405.6" width="5.4" height="1.6" fill="#e8904a"/>
<rect x="826.2" y="407.6" width="1.4" height="4.0" fill="#e8904a"/>
<polygon points="790.4,418.1 808.1,408.2 837.3,423.8 821.6,434.2" fill="#d2dadc"/>
<polygon points="790.4,418.1 821.6,434.2 821.6,436.0 790.4,419.8" fill="#aeb9bd"/>
<polygon points="821.6,434.2 837.3,423.8 837.3,425.4 821.6,436.0" fill="#b8c2c6"/>
<line x1="805.5" y1="412.6" x2="831.0" y2="426.2" stroke="#8d9a9f" stroke-width="1.2"/>
<line x1="802.9" y1="414.1" x2="828.4" y2="427.7" stroke="#8d9a9f" stroke-width="1.2"/>
<line x1="800.3" y1="415.6" x2="825.8" y2="429.2" stroke="#8d9a9f" stroke-width="1.2"/>
<polygon points="803.0,421.5 808.0,418.8 814.5,422.3 809.5,425.2" fill="#bcc6ca"/>
<polygon points="898.1,395.1 961.0,359.8 961.0,478.6 898.1,515.3" fill="#9ba8ad"/>
<polygon points="851.3,373.6 893.6,393.7 893.6,515.4 851.3,488.0" fill="url(#r3g)"/>
<polygon points="893.6,393.5 895.8,394.5 898.1,395.1 898.1,515.3 895.8,516.6 893.6,515.4" fill="#c3cdd0"/>
<polygon points="851.3,373.6 918.0,333.1 961.6,358.8 961.0,360.2 898.1,395.3 895.8,394.7 893.6,393.7" fill="#aab5ba"/>
<polygon points="860.2,370.9 919.5,334.3 961.0,358.6 895.8,392.5" fill="#c7d0d3"/>
<path d="M861.7 371.1 L895.8 391.6 L959.5 358.8" fill="none" stroke="#d1d9db" stroke-width="1.3"/>
<line x1="880.7" y1="372.8" x2="891.1" y2="367.0" stroke="#87959a" stroke-width="1.0"/>
<line x1="882.5" y1="373.8" x2="893.0" y2="368.1" stroke="#87959a" stroke-width="1.0"/>
<line x1="884.4" y1="374.9" x2="894.8" y2="369.1" stroke="#87959a" stroke-width="1.0"/>
<line x1="886.2" y1="375.9" x2="896.7" y2="370.2" stroke="#87959a" stroke-width="1.0"/>
<line x1="888.1" y1="377.0" x2="898.5" y2="371.2" stroke="#87959a" stroke-width="1.0"/>
<line x1="897.6" y1="363.3" x2="908.0" y2="357.5" stroke="#87959a" stroke-width="1.0"/>
<line x1="899.4" y1="364.3" x2="909.9" y2="358.6" stroke="#87959a" stroke-width="1.0"/>
<line x1="901.3" y1="365.4" x2="911.7" y2="359.6" stroke="#87959a" stroke-width="1.0"/>
<line x1="903.1" y1="366.4" x2="913.6" y2="360.7" stroke="#87959a" stroke-width="1.0"/>
<line x1="905.0" y1="367.5" x2="915.4" y2="361.7" stroke="#87959a" stroke-width="1.0"/>
<line x1="914.5" y1="353.8" x2="924.9" y2="348.0" stroke="#87959a" stroke-width="1.0"/>
<line x1="916.3" y1="354.8" x2="926.8" y2="349.1" stroke="#87959a" stroke-width="1.0"/>
<line x1="918.2" y1="355.9" x2="928.6" y2="350.1" stroke="#87959a" stroke-width="1.0"/>
<line x1="920.0" y1="356.9" x2="930.5" y2="351.2" stroke="#87959a" stroke-width="1.0"/>
<line x1="921.9" y1="358.0" x2="932.3" y2="352.2" stroke="#87959a" stroke-width="1.0"/>
<polygon points="900.0,399.8 959.2,367.2 959.2,476.6 900.0,511.4" fill="#a3afb4"/>
<polygon points="900.0,422.8 959.2,457.6 959.2,476.6 900.0,511.4" fill="#94a2a7"/>
<circle cx="899.7" cy="397.6" r="1" fill="#7f8c91"/>
<circle cx="957.5" cy="364.8" r="1" fill="#7f8c91"/>
<circle cx="899.7" cy="512.2" r="1" fill="#7f8c91"/>
<polygon points="857.5,413.5 887.0,431.0 887.0,468.5 857.5,451.0" fill="none" stroke="#98a5aa" stroke-width="0.8"/>
</g>
<!-- heading -->
<g id="heading" font-weight="700" font-size="41.6" fill="#ffffff" stroke="#ffffff" stroke-width="1.1" stroke-linejoin="round">
 <filter id="tsh" x="-5%" y="-20%" width="110%" height="140%"><feGaussianBlur stdDeviation="0.7"/></filter>
 <g fill="#1b4252" stroke="#1b4252" transform="translate(1.9,2.1)" filter="url(#tsh)" opacity="0.9">
  <text x="70.2" y="96.0" textLength="215.6" lengthAdjust="spacingAndGlyphs">DIFFERENT</text>
  <text x="298.0" y="96.0" textLength="123.4" lengthAdjust="spacingAndGlyphs">TYPES</text>
  <text x="433.8" y="96.0" textLength="56.6" lengthAdjust="spacingAndGlyphs">OF</text>
  <text x="499.6" y="96.0" textLength="188.6" lengthAdjust="spacingAndGlyphs">HOSTING</text>
 </g>
 <text x="70.2" y="96.0" textLength="215.6" lengthAdjust="spacingAndGlyphs">DIFFERENT</text>
 <text x="298.0" y="96.0" textLength="123.4" lengthAdjust="spacingAndGlyphs">TYPES</text>
 <text x="433.8" y="96.0" textLength="56.6" lengthAdjust="spacingAndGlyphs">OF</text>
 <text x="499.6" y="96.0" textLength="188.6" lengthAdjust="spacingAndGlyphs">HOSTING</text>
</g>
<!-- sub heading -->
<g id="sub" font-size="23.8" fill="#ffffff" stroke="#ffffff" stroke-width="0.5">
 <text x="70.4" y="166.2" textLength="98.6" lengthAdjust="spacingAndGlyphs">SHARED</text>
 <text x="177.6" y="166.2" textLength="113" lengthAdjust="spacingAndGlyphs">HOSTING</text>
</g>
<g id="para" font-size="24" fill="#ffffff">
 <text x="82.0" y="195.1" textLength="25.6" lengthAdjust="spacingAndGlyphs">In</text>
 <text x="112.3" y="195.1" textLength="88.6" lengthAdjust="spacingAndGlyphs">shared</text>
 <text x="207.1" y="195.1" textLength="99.6" lengthAdjust="spacingAndGlyphs">hosting,</text>
 <text x="312.8" y="195.1" textLength="73.0" lengthAdjust="spacingAndGlyphs">many</text>
 <text x="391.5" y="195.1" textLength="112.4" lengthAdjust="spacingAndGlyphs">domains</text>
 <text x="83.1" y="224.8" textLength="71.3" lengthAdjust="spacingAndGlyphs">share</text>
 <text x="160.8" y="224.8" textLength="41.8" lengthAdjust="spacingAndGlyphs">the</text>
 <text x="208.3" y="224.8" textLength="66.7" lengthAdjust="spacingAndGlyphs">same</text>
 <text x="286.1" y="224.8" textLength="78.1" lengthAdjust="spacingAndGlyphs">server</text>
 <text x="369.9" y="224.8" textLength="130.2" lengthAdjust="spacingAndGlyphs">resources,</text>
 <text x="83.1" y="254.5" textLength="61.1" lengthAdjust="spacingAndGlyphs">such</text>
 <text x="150.4" y="254.5" textLength="30.6" lengthAdjust="spacingAndGlyphs">as</text>
 <text x="188.0" y="254.5" textLength="54.5" lengthAdjust="spacingAndGlyphs">RAM</text>
 <text x="246.9" y="254.5" textLength="49.7" lengthAdjust="spacingAndGlyphs">and</text>
 <text x="303.9" y="254.5" textLength="58.5" lengthAdjust="spacingAndGlyphs">CPU.</text>
</g>
</svg>
</body>
</html>
